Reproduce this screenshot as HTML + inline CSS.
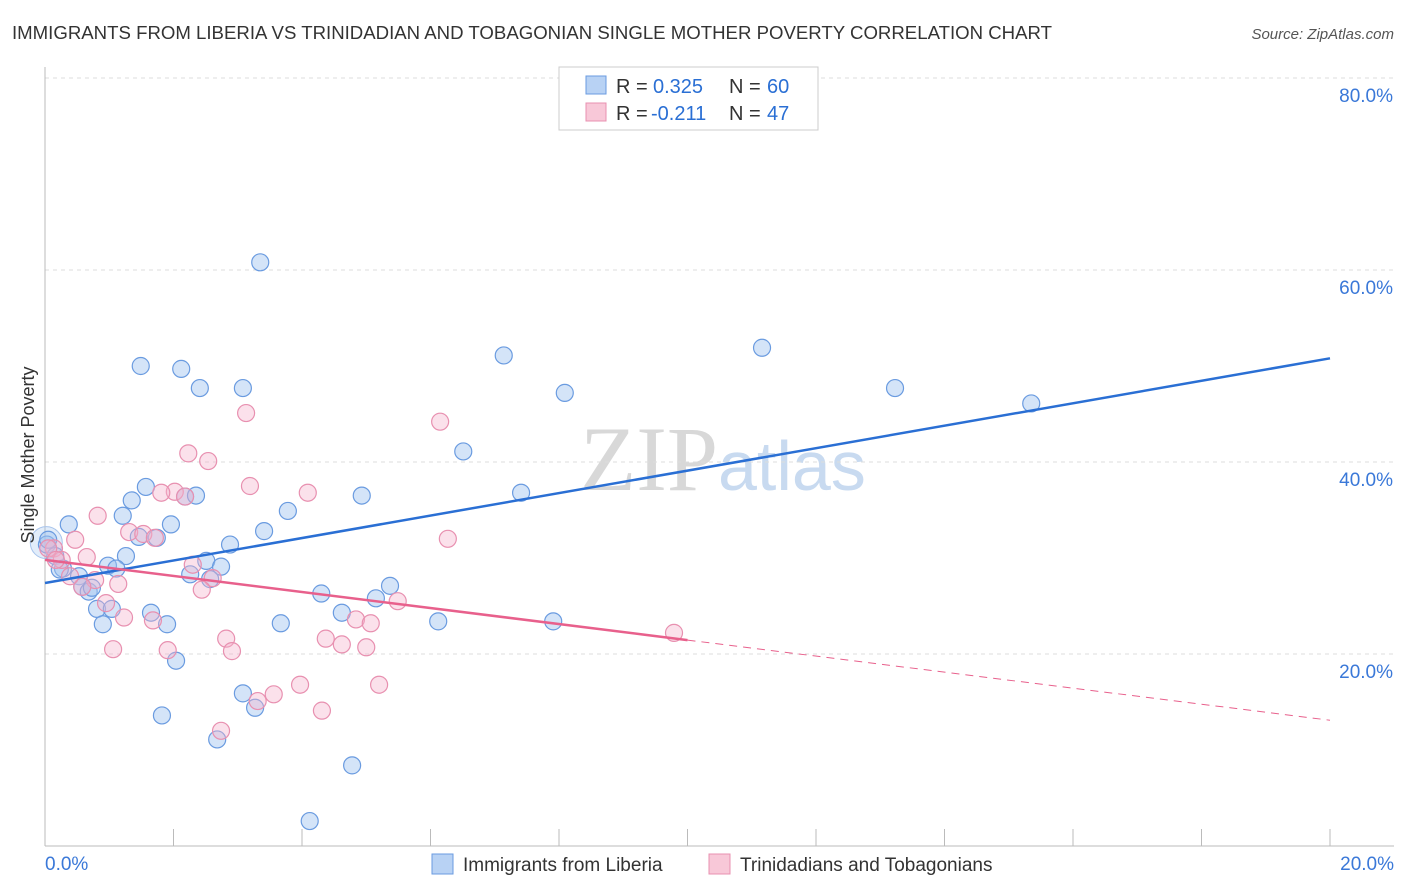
<!DOCTYPE html>
<html><head><meta charset="utf-8"><style>
body{margin:0;background:#fff;font-family:"Liberation Sans",sans-serif;}
svg{display:block}
</style></head><body>
<svg id="chart" width="1406" height="892">
<text x="12" y="39" font-size="18" fill="#333" textLength="1040" lengthAdjust="spacingAndGlyphs">IMMIGRANTS FROM LIBERIA VS TRINIDADIAN AND TOBAGONIAN SINGLE MOTHER POVERTY CORRELATION CHART</text>
<text x="1394" y="39" font-size="15" fill="#555" font-style="italic" text-anchor="end">Source: ZipAtlas.com</text>
<text x="718" y="490" font-size="92" fill="#d8d8d8" text-anchor="end" font-family="Liberation Serif">ZIP</text>
<text x="718" y="490" font-size="70" fill="#c8daf0">atlas</text>
<g id="grid"></g><g id="axes"></g><g id="marks"></g>
<text transform="translate(34,455) rotate(-90)" font-size="18" fill="#333" text-anchor="middle">Single Mother Poverty</text>
<g>
<rect x="559" y="67" width="259" height="63" fill="#fff" stroke="#ccc"/>
<rect x="586" y="76" width="20" height="18" fill="#b8d2f4" stroke="#6a9be0"/>
<text x="616" y="93" font-size="20" fill="#333">R =</text>
<text x="653" y="93" font-size="20" fill="#2a6fd4">0.325</text>
<text x="729" y="93" font-size="20" fill="#333">N =</text>
<text x="767" y="93" font-size="20" fill="#2a6fd4">60</text>
<rect x="586" y="103" width="20" height="18" fill="#f8c8d8" stroke="#e890b0"/>
<text x="616" y="120" font-size="20" fill="#333">R =</text>
<text x="651" y="120" font-size="20" fill="#2a6fd4">-0.211</text>
<text x="729" y="120" font-size="20" fill="#333">N =</text>
<text x="767" y="120" font-size="20" fill="#2a6fd4">47</text>
</g>
<g>
<rect x="432" y="854" width="21" height="20" fill="#b8d2f4" stroke="#6a9be0"/>
<text x="463" y="871" font-size="19" fill="#333">Immigrants from Liberia</text>
<rect x="709" y="854" width="21" height="20" fill="#f8c8d8" stroke="#e890b0"/>
<text x="740" y="871" font-size="19" fill="#333">Trinidadians and Tobagonians</text>
</g>
</svg>
<script>
const blueX=[3.35,1.49,2.12,2.41,3.08,7.14,8.09,11.16,13.23,15.35,6.51,1.57,2.18,2.35,1.35,4.93,7.41,3.78,1.21,0.37,1.96,3.41,1.74,1.46,2.88,1.26,2.51,0.03,0.16,0.98,1.11,2.74,0.28,0.53,2.26,2.57,5.37,0.58,0.68,4.30,5.15,0.81,1.04,1.65,4.62,6.12,7.91,0.90,1.90,3.67,2.04,3.08,3.27,1.82,2.68,4.78,4.12,0.05,0.23,0.73];
const blueY=[60.8,50.0,49.7,47.7,47.7,51.1,47.2,51.9,47.7,46.1,41.1,37.4,36.4,36.5,36.0,36.5,36.8,34.9,34.4,33.5,33.5,32.8,32.1,32.2,31.4,30.2,29.7,31.4,30.2,29.2,28.9,29.1,28.9,28.1,28.3,27.8,27.1,27.0,26.5,26.3,25.8,24.7,24.7,24.3,24.3,23.4,23.4,23.1,23.1,23.2,19.3,15.9,14.4,13.6,11.1,8.4,2.6,31.9,28.8,26.9];
const pinkX=[3.13,6.15,2.23,2.54,3.19,4.09,2.02,1.81,2.18,0.82,6.27,1.31,1.53,1.71,0.47,0.14,0.65,0.26,2.30,0.78,2.61,1.14,2.44,0.58,5.49,0.95,1.23,1.68,4.84,5.07,2.82,4.37,4.62,5.00,1.91,2.91,1.06,9.79,3.97,5.20,3.56,3.31,4.31,2.74,0.05,0.17,0.39];
const pinkY=[45.1,44.2,40.9,40.1,37.5,36.8,36.9,36.8,36.4,34.4,32.0,32.7,32.5,32.1,31.9,31.0,30.1,29.8,29.3,27.7,27.9,27.3,26.7,27.0,25.5,25.3,23.8,23.5,23.6,23.2,21.6,21.6,21.0,20.7,20.4,20.3,20.5,22.2,16.8,16.8,15.8,15.1,14.1,12.0,31.0,29.8,28.1];
const blueTrend=[27.4,50.8];
const pinkTrend=[29.8,13.1];
const pinkSolidEnd=10.0;
const yTicks=[20,40,60,80];
const yTickLabels=["20.0%","40.0%","60.0%","80.0%"];
const xTickCount=10;

const NS="http://www.w3.org/2000/svg";
const X0=45,X1=1330,Y0=846,PX_PER=9.6;
const sx=v=>X0+(v/20)*(X1-X0);
const sy=v=>Y0-v*PX_PER;
function mk(tag,attrs,parent){const e=document.createElementNS(NS,tag);for(const k in attrs)e.setAttribute(k,attrs[k]);parent.appendChild(e);return e;}
const grid=document.getElementById('grid'),axes=document.getElementById('axes'),marks=document.getElementById('marks');
yTicks.forEach((t,i)=>{
  const l=mk('line',{x1:X0,x2:1394,y1:sy(t),y2:sy(t),stroke:'#ddd','stroke-dasharray':'4,4'},grid);
  
  
  const tx=mk('text',{x:1393,y:sy(t)+24,'font-size':19,fill:'#3a78d8','text-anchor':'end'},axes);
  tx.textContent=yTickLabels[i];
  
  
});
const ya=mk('line',{x1:X0,x2:X0,y1:67,y2:Y0,stroke:'#bbb'},axes);


const xa=mk('line',{x1:X0,x2:1394,y1:Y0,y2:Y0,stroke:'#bbb'},axes);


for(let i=0;i<=xTickCount;i++){
  const x=sx(i*20/xTickCount);
  const t=mk('line',{x1:x,x2:x,y1:829,y2:Y0,stroke:'#bbb'},axes);
  
  
}
const xl0=mk('text',{x:45,y:870,'font-size':19,fill:'#3a78d8'},axes);xl0.textContent='0.0%';


const xl1=mk('text',{x:1394,y:870,'font-size':19,fill:'#3a78d8','text-anchor':'end'},axes);xl1.textContent='20.0%';



const big=mk('circle',{cx:sx(0.02),cy:sy(31.6),r:16,fill:'rgba(160,195,240,0.3)',stroke:'#a8c4ec'},marks);


blueX.forEach((x,i)=>{
  const c=mk('circle',{cx:sx(x),cy:sy(blueY[i]),r:8.5,fill:'rgba(160,195,240,0.45)',stroke:'#6a9be0','stroke-width':1.2},marks);
  
  
});
pinkX.forEach((x,i)=>{
  const c=mk('circle',{cx:sx(x),cy:sy(pinkY[i]),r:8.5,fill:'rgba(245,180,205,0.4)',stroke:'#e890b0','stroke-width':1.2},marks);
  
  
});
const bl=mk('line',{x1:sx(0),y1:sy(blueTrend[0]),x2:sx(20),y2:sy(blueTrend[1]),stroke:'#2a6fd4','stroke-width':2.5},marks);


const pAt=x=>pinkTrend[0]+(pinkTrend[1]-pinkTrend[0])*x/20;
const pl=mk('line',{x1:sx(0),y1:sy(pAt(0)),x2:sx(pinkSolidEnd),y2:sy(pAt(pinkSolidEnd)),stroke:'#e8608c','stroke-width':2.5},marks);


const pd=mk('line',{x1:sx(pinkSolidEnd),y1:sy(pAt(pinkSolidEnd)),x2:sx(20),y2:sy(pAt(20)),stroke:'#e8608c','stroke-width':1,'stroke-dasharray':'8,6'},marks);


</script>
</body></html>
